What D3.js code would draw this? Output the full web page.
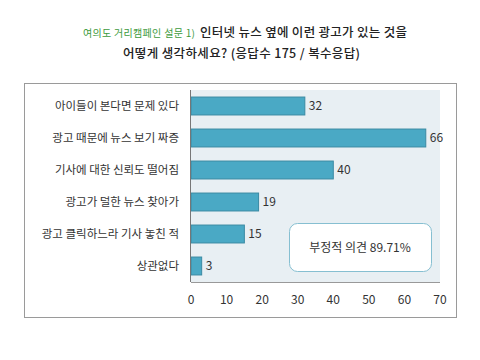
<!DOCTYPE html>
<html>
<head>
<meta charset="utf-8">
<script src="https://cdn.jsdelivr.net/npm/d3@7"></script>
<style>
  body { margin: 0; background: #fff; }
  svg { display: block; font-family: "Noto Sans CJK KR", "Noto Sans", sans-serif; }
</style>
</head>
<body>
<div id="chart"></div>
<script>
// ===== data =====
const categories = [
    "아이들이 본다면 문제 있다",
    "광고 때문에 뉴스 보기 짜증",
    "기사에 대한 신뢰도 떨어짐",
    "광고가 덜한 뉴스 찾아가",
    "광고 클릭하느라 기사 놓친 적",
    "상관없다"
];
const values = [32, 66, 40, 19, 15, 3];
const xTicks = [0, 10, 20, 30, 40, 50, 60, 70];
const titleTag = "여의도 거리캠페인 설문 1)";
const titleLine1 = "인터넷 뉴스 옆에 이런 광고가 있는 것을";
const titleLine2 = "어떻게 생각하세요? (응답수 175 / 복수응답)";
const noteText = "부정적 의견 89.71%";

const width = 480, height = 360;
const plot = { left: 191, right: 440, top: 90, bottom: 282 };

const svg = d3.select('#chart')
    .append('svg')
    .attr('width', width)
    .attr('height', height);

// Title (stretched to the width of the hand-lettered original)
svg.append('text')
    .attr('x', 83).attr('y', 37)
    .attr('font-size', '10px')
    .attr('fill', '#3c9a3c')
    .attr('textLength', 112)
    .attr('lengthAdjust', 'spacing')
    .text(titleTag);

svg.append('text')
    .attr('x', 200).attr('y', 37)
    .attr('font-size', '12.5px')
    .attr('font-weight', 500)
    .attr('fill', '#222')
    .attr('textLength', 207)
    .attr('lengthAdjust', 'spacing')
    .text(titleLine1);

svg.append('text')
    .attr('x', 123).attr('y', 58)
    .attr('font-size', '12.5px')
    .attr('font-weight', 500)
    .attr('fill', '#222')
    .attr('textLength', 237)
    .attr('lengthAdjust', 'spacing')
    .text(titleLine2);

// Frame
svg.append('rect')
    .attr('x', 24.5).attr('y', 83.5)
    .attr('width', 432).attr('height', 234)
    .attr('fill', '#fff')
    .attr('stroke', '#9a9a9a');

// Scales
const x = d3.scaleLinear().domain([0, 70]).range([plot.left, plot.right]);
const y = d3.scaleBand().domain(categories).range([plot.top, plot.bottom]).paddingInner(0.44).paddingOuter(0.22);

// Plot background
svg.append('rect')
    .attr('x', plot.left).attr('y', plot.top)
    .attr('width', plot.right - plot.left).attr('height', plot.bottom - plot.top)
    .attr('fill', '#e8eff3');

// Bars
svg.append('g')
    .selectAll('rect')
    .data(values)
    .enter().append('rect')
    .attr('x', x(0))
    .attr('y', (d, i) => y(categories[i]))
    .attr('width', d => x(d) - x(0))
    .attr('height', y.bandwidth())
    .attr('fill', '#4aa9c5')
    .attr('stroke', '#3a8aa3')
    .attr('stroke-width', 1);

// Value labels
svg.append('g')
    .selectAll('text')
    .data(values)
    .enter().append('text')
    .attr('x', d => x(d) + 4)
    .attr('y', (d, i) => y(categories[i]) + y.bandwidth() / 2 + 4)
    .attr('font-size', '12px')
    .attr('fill', '#333')
    .text(d => d);

// Category labels
svg.append('g')
    .selectAll('text')
    .data(categories)
    .enter().append('text')
    .attr('x', 179)
    .attr('y', d => y(d) + y.bandwidth() / 2 + 4)
    .attr('text-anchor', 'end')
    .attr('font-size', '11.5px')
    .attr('fill', '#333')
    .text(d => d);

// Axis lines
svg.append('line')
    .attr('x1', plot.left - 0.5).attr('x2', plot.left - 0.5)
    .attr('y1', plot.top).attr('y2', plot.bottom)
    .attr('stroke', '#777');
svg.append('line')
    .attr('x1', plot.left).attr('x2', plot.right)
    .attr('y1', plot.bottom + 0.5).attr('y2', plot.bottom + 0.5)
    .attr('stroke', '#999');

// X tick labels
svg.append('g')
    .selectAll('text')
    .data(xTicks)
    .enter().append('text')
    .attr('x', d => x(d))
    .attr('y', 304)
    .attr('text-anchor', 'middle')
    .attr('font-size', '12px')
    .attr('fill', '#333')
    .text(d => d);

// Note box
svg.append('rect')
    .attr('x', 289.5).attr('y', 223.5)
    .attr('width', 142).attr('height', 48)
    .attr('rx', 8)
    .attr('fill', '#fff')
    .attr('stroke', '#86bfd1');
svg.append('text')
    .attr('x', 360).attr('y', 252)
    .attr('text-anchor', 'middle')
    .attr('font-size', '12px')
    .attr('fill', '#333')
    .text(noteText);
</script>
</body>
</html>
